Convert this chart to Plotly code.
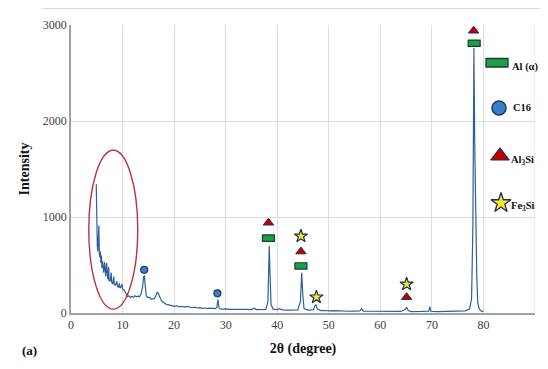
import plotly.graph_objects as go

# ---------------- data ----------------
two_theta = [4.90, 4.95, 5.00, 5.10, 5.20, 5.30, 5.40, 5.50, 5.60, 5.70, 5.80, 5.90, 6.00, 6.10, 6.20,
             6.35, 6.50, 6.60, 6.75, 6.90, 7.00, 7.15, 7.30, 7.40, 7.60, 7.80, 7.90, 8.10, 8.30, 8.40,
             8.60, 8.90, 9.00, 9.20, 9.40, 9.50, 9.70, 9.90, 10.0, 10.3, 10.6, 10.9, 11.2, 11.5, 11.8,
             12.1, 12.4, 12.7, 13.0, 13.3, 13.6, 13.9, 14.1, 14.25, 14.4, 14.6, 14.9, 15.2, 15.5, 15.8,
             16.1, 16.4, 16.7, 16.9, 17.2, 17.5, 17.8, 18.1, 18.5, 19.0, 19.5, 20.0, 20.5, 21.0, 21.5,
             22.0, 22.5, 23.0, 23.5, 24.0, 24.5, 25.0, 25.5, 26.0, 26.5, 27.0, 27.5, 28.0, 28.3, 28.5,
             28.7, 29.0, 29.5, 30.0, 31.0, 32.0, 33.0, 34.0, 35.0, 35.6, 36.0, 37.0, 37.8, 38.2, 38.45,
             38.6, 38.8, 39.2, 40.0, 40.3, 41.0, 42.0, 43.0, 44.0, 44.5, 44.75, 44.95, 45.2, 46.0, 47.0,
             47.3, 47.5, 47.8, 48.5, 49.5, 50.0, 51.0, 52.0, 53.0, 54.0, 55.0, 56.0, 56.4, 56.7, 58.0,
             60.0, 62.0, 64.0, 64.8, 65.1, 65.4, 66.0, 68.0, 69.4, 69.6, 69.8, 71.0, 73.0, 75.0, 76.5,
             77.3, 77.7, 77.95, 78.15, 78.3, 78.4, 78.55, 78.7, 78.9, 79.2, 79.6, 80.0]
intensity = [1340, 900, 760, 700, 640, 900, 910, 620, 580, 640, 520, 600, 470, 540, 440,
             420, 530, 400, 380, 520, 370, 350, 480, 340, 330, 420, 320, 300, 380, 300,
             290, 330, 280, 270, 310, 260, 270, 300, 250, 240, 210, 170, 180, 160, 175,
             165, 180, 170, 175, 170, 200, 280, 380, 385, 280, 180, 160, 165, 145, 150,
             150, 170, 215, 210, 160, 130, 115, 100, 90, 85, 80, 70, 75, 65, 70,
             62, 68, 60, 55, 60, 52, 55, 48, 52, 45, 50, 44, 45, 60, 140,
             55, 42, 40, 42, 38, 40, 35, 37, 35, 50, 36, 34, 38, 120, 700,
             420, 90, 40, 35, 45, 32, 30, 30, 32, 120, 420, 200, 45, 30, 32,
             75, 85, 40, 25, 26, 22, 24, 20, 22, 18, 20, 22, 45, 20, 18,
             16, 18, 16, 35, 60, 25, 15, 16, 20, 65, 18, 15, 16, 18, 22,
             40, 150, 900, 2760, 1800, 1350, 1100, 400, 100, 40, 20, 15]

al_alpha_x = [38.3, 44.6, 78.2]
al_alpha_y = [780, 490, 2810]
c16_x = [14.2, 28.4]
c16_y = [450, 205]
al3si_x = [38.3, 44.6, 65.1, 78.1]
al3si_y = [940, 640, 165, 2940]
fe3si_x = [44.6, 47.6, 65.1]
fe3si_y = [800, 165, 300]

x_ticks = [0, 10, 20, 30, 40, 50, 60, 70, 80, 90]
y_ticks = [0, 1000, 2000, 3000]

legend_labels = ["Al (α)", "C16", "Al<sub>3</sub>Si", "Fe<sub>3</sub>Si"]

# ---------------- figure ----------------
# the page body has an 8px margin on every side; keep the figure inside it
OFF = 8
SERIF = "Liberation Serif"
W, H = 548 - 2 * OFF, 369 - 2 * OFF
ML, MT = 71 - OFF, 25 - OFF
MR = W - (535 - OFF)
MB = H - (313 - OFF)
PW = W - ML - MR
PH = H - MT - MB


def px(xp):  # page pixel x -> paper
    return (xp - OFF - ML) / PW


def py(yp):  # page pixel y -> paper
    return (H - MB - (yp - OFF)) / PH


GREEN = "#1e9e4c"
GREEN_EDGE = "#17402a"
RED = "#c00000"
RED_EDGE = "#2a2a44"
BLUE = "#3b7fc4"
BLUE_EDGE = "#1f3864"
YELLOW = "#f3ea2b"
YELLOW_EDGE = "#1f2d5a"

fig = go.Figure()

fig.add_trace(go.Scatter(x=two_theta, y=intensity, mode="lines",
                         line=dict(color="#2f5f98", width=1.2), showlegend=False,
                         hoverinfo="skip"))

fig.add_trace(go.Scatter(x=c16_x, y=c16_y, mode="markers", showlegend=False,
                         marker=dict(symbol="circle", size=7, color=BLUE,
                                     line=dict(color=BLUE_EDGE, width=1.2))))
fig.add_trace(go.Scatter(x=al3si_x, y=al3si_y, mode="markers", showlegend=False,
                         marker=dict(symbol="triangle-up", size=9, color=RED,
                                     line=dict(color=RED_EDGE, width=1))))
fig.add_trace(go.Scatter(x=fe3si_x, y=fe3si_y, mode="markers", showlegend=False,
                         marker=dict(symbol="star", size=10, color=YELLOW,
                                     line=dict(color=YELLOW_EDGE, width=1.2))))

shapes = []
for xa, ya in zip(al_alpha_x, al_alpha_y):
    shapes.append(dict(type="rect", xref="x", yref="y", xsizemode="pixel", ysizemode="pixel",
                       xanchor=xa, yanchor=ya, x0=-6, x1=6, y0=-3.2, y1=3.2,
                       fillcolor=GREEN, line=dict(color=GREEN_EDGE, width=1.2), layer="above"))

shapes.append(dict(type="circle", xref="x", yref="y", x0=3.45, x1=12.95, y0=40, y1=1695,
                   line=dict(color="#b5373a", width=1.4)))

shapes.append(dict(type="rect", xref="paper", yref="paper", x0=px(486), x1=px(508),
                   y0=py(67), y1=py(58.5), fillcolor=GREEN, line=dict(color=GREEN_EDGE, width=1.3)))

shapes.append(dict(type="line", xref="paper", yref="paper", x0=px(42), x1=px(548),
                   y0=py(8.5), y1=py(8.5), line=dict(color="#d6d9de", width=1)))

shapes.append(dict(type="line", xref="x", yref="y", x0=90, x1=90, y0=0, y1=3000,
                   line=dict(color="#dadde3", width=1)))

fig.add_trace(go.Scatter(x=[499], y=[108], xaxis="x2", yaxis="y2", mode="markers",
                         showlegend=False, cliponaxis=False,
                         marker=dict(symbol="circle", size=14, color=BLUE,
                                     line=dict(color=BLUE_EDGE, width=1.5))))
fig.add_trace(go.Scatter(x=[500], y=[156], xaxis="x2", yaxis="y2", mode="markers",
                         showlegend=False, cliponaxis=False,
                         marker=dict(symbol="triangle-up", size=16, color=RED,
                                     line=dict(color=RED_EDGE, width=1.2))))
fig.add_trace(go.Scatter(x=[501], y=[203], xaxis="x2", yaxis="y2", mode="markers",
                         showlegend=False, cliponaxis=False,
                         marker=dict(symbol="star", size=15, color=YELLOW,
                                     line=dict(color=YELLOW_EDGE, width=1.3))))

annotations = []
legend_pos = [(510, 67), (511, 107), (509, 160), (509, 206)]
for lab, (lx, ly) in zip(legend_labels, legend_pos):
    annotations.append(dict(text="<b>" + lab + "</b>", xref="paper", yref="paper",
                            x=px(lx), y=py(ly), xanchor="left", yanchor="middle",
                            showarrow=False, font=dict(family=SERIF, size=10.5, color="#111111")))
annotations.append(dict(text="<b>(a)</b>", xref="paper", yref="paper", x=px(20), y=py(360),
                        xanchor="left", yanchor="bottom", showarrow=False,
                        font=dict(family=SERIF, size=13, color="#111111")))

fig.update_layout(
    width=W, height=H,
    margin=dict(l=ML, r=MR, t=MT, b=MB, autoexpand=False),
    paper_bgcolor="white", plot_bgcolor="white",
    shapes=shapes, annotations=annotations,
    xaxis=dict(range=[0, 90], tickvals=x_ticks, ticktext=[str(v) for v in x_ticks],
               automargin=False,
               showgrid=True, gridcolor="#dadde3", gridwidth=1,
               showline=True, linecolor="#9aa2b0", linewidth=1.5, zeroline=False,
               ticks="", tickfont=dict(family=SERIF, size=12, color="#404040"),
               title=dict(text="<b>2θ (degree)</b>", standoff=12,
                          font=dict(family=SERIF, size=14, color="#111111"))),
    yaxis=dict(range=[0, 3000], tickvals=y_ticks, ticktext=[str(v) for v in y_ticks],
               automargin=False,
               showgrid=True, gridcolor="#dadde3", gridwidth=1,
               showline=True, linecolor="#9aa2b0", linewidth=1.5, zeroline=False,
               ticks="", tickfont=dict(family=SERIF, size=12, color="#404040"),
               title=dict(text="<b>Intensity</b>", standoff=10,
                          font=dict(family=SERIF, size=14, color="#111111"))),
    xaxis2=dict(overlaying="x", range=[ML + OFF, W + OFF - MR], visible=False, fixedrange=True),
    yaxis2=dict(overlaying="y", range=[H + OFF - MB, MT + OFF], visible=False, fixedrange=True),
    showlegend=False,
)

fig.write_html("out.html")
